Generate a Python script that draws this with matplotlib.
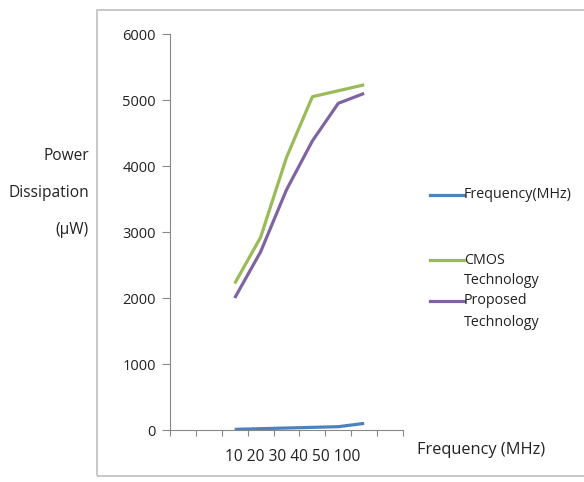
import matplotlib
matplotlib.use("Agg")
import matplotlib.pyplot as plt
from matplotlib.lines import Line2D
from matplotlib.patches import Rectangle

plt.rcParams['font.family'] = ['Open Sans', 'DejaVu Sans']

# categories (9 slots, data occupies slots 2..7)
n_slots = 9
data_slots = [2, 3, 4, 5, 6, 7]
freq_labels = ["10", "20", "30", "40", "50", "100"]
freq_series = [10, 20, 30, 40, 50, 100]
cmos = [2220, 2920, 4130, 5050, 5140, 5230]
proposed = [2000, 2700, 3640, 4380, 4950, 5100]
series_names = ["Frequency(MHz)", "CMOS\nTechnology", "Proposed\nTechnology"]
colors = ["#4F81BD", "#9BBB59", "#8064A2"]
yticks = [0, 1000, 2000, 3000, 4000, 5000, 6000]

W, H = 584, 482
fig = plt.figure(figsize=(W / 100, H / 100), dpi=100)

# chart frame
fig.add_artist(Rectangle((97 / W, 1 - 476 / H), (W - 97 + 5) / W, (476 - 10) / H,
                         transform=fig.transFigure, fill=False, edgecolor="#BFBFBF", lw=1.2))

left, right, top, bottom = 170, 403, 34, 430
ax = fig.add_axes([left / W, 1 - bottom / H, (right - left) / W, (bottom - top) / H])

for vals, c in zip([freq_series, cmos, proposed], colors):
    ax.plot(data_slots, vals, color=c, lw=2.3, solid_capstyle='butt')

ax.set_xlim(-0.5, n_slots - 0.5)
ax.set_ylim(0, 6000)
ax.set_yticks(yticks)
ax.set_yticklabels([str(v) for v in yticks], fontsize=10.5, color="#222222")
ax.set_xticks([i - 0.5 for i in range(n_slots + 1)])
ax.set_xticklabels([])
ax.tick_params(axis='y', direction='out', length=6, color="#888888", pad=4)
ax.tick_params(axis='x', direction='out', length=4, color="#888888")
for s in ["top", "right"]:
    ax.spines[s].set_visible(False)
ax.spines["left"].set_color("#888888")
ax.spines["bottom"].set_color("#888888")

fs = 11.2
# category labels under the axis
fig.text(225 / W, 1 - 457 / H, " ".join(freq_labels), fontsize=fs, color="#222222",
         ha='left', va='center')
# x title
fig.text(417 / W, 1 - 450 / H, "Frequency (MHz)", fontsize=11.8, color="#222222",
         ha='left', va='center')
# y title
for txt, y in [("Power", 156), ("Dissipation", 193), ("(µW)", 230)]:
    fig.text(89 / W, 1 - y / H, txt, fontsize=fs, color="#222222", ha='right', va='center')

# legend
lfs = 10.3
leg_y = [195, 260, 301]
for name, c, y in zip(series_names, colors, leg_y):
    fig.add_artist(Line2D([430 / W, 464 / W], [1 - y / H, 1 - y / H],
                          transform=fig.transFigure, color=c, lw=2.3))
    lines = name.split("\n")
    for k, ln in enumerate(lines):
        fig.text(464 / W, 1 - (y + k * 21) / H, ln, fontsize=lfs, color="#222222",
                 ha='left', va='center')

fig.savefig("out.png", dpi=100)
